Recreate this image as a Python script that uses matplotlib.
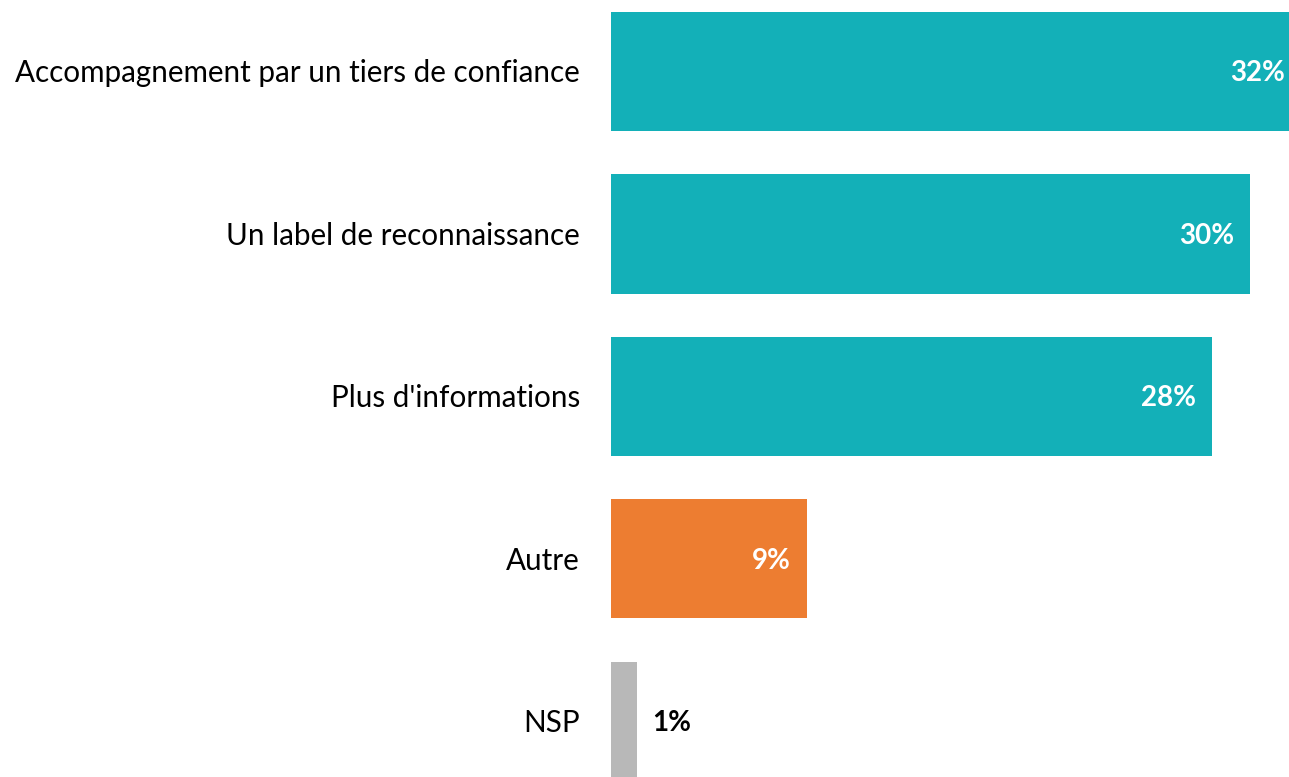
import matplotlib
matplotlib.use("Agg")
import matplotlib.pyplot as plt

categories = ["Accompagnement par un tiers de confiance", "Un label de reconnaissance",
              "Plus d'informations", "Autre", "NSP"]
values = [32.4, 30.0, 28.2, 9.2, 1.2]
labels = ["32%", "30%", "28%", "9%", "1%"]
colors = ["#13B0B8", "#13B0B8", "#13B0B8", "#ED7D31", "#B8B8B8"]

W, H = 1289, 777
fig = plt.figure(figsize=(W / 100, H / 100), dpi=100)
ax = fig.add_axes([611 / W, 0, 1 - 611 / W, 1])
ypos = list(range(len(categories)))
ax.barh(ypos, values, height=0.733, color=colors)
ax.set_xlim(0, 678 / 21.3)
ax.set_ylim(4.342, -0.44)
ax.axis("off")

font = "Lato"
for y, v, lab, cat in zip(ypos, values, labels, categories):
    ax.text(-31 / 21.3, y + 0.012, cat, ha="right", va="center", fontsize=21.3,
            family=font, color="black")
    if v > 3:
        ax.text(v - 16 / 21.3, y + 0.012, lab, ha="right", va="center", fontsize=20,
                family=font, fontweight="bold", color="white", clip_on=True)
    else:
        ax.text(v + 16 / 21.3, y + 0.012, lab, ha="left", va="center", fontsize=20,
                family=font, fontweight="bold", color="black")

fig.savefig("out.png", dpi=100)
